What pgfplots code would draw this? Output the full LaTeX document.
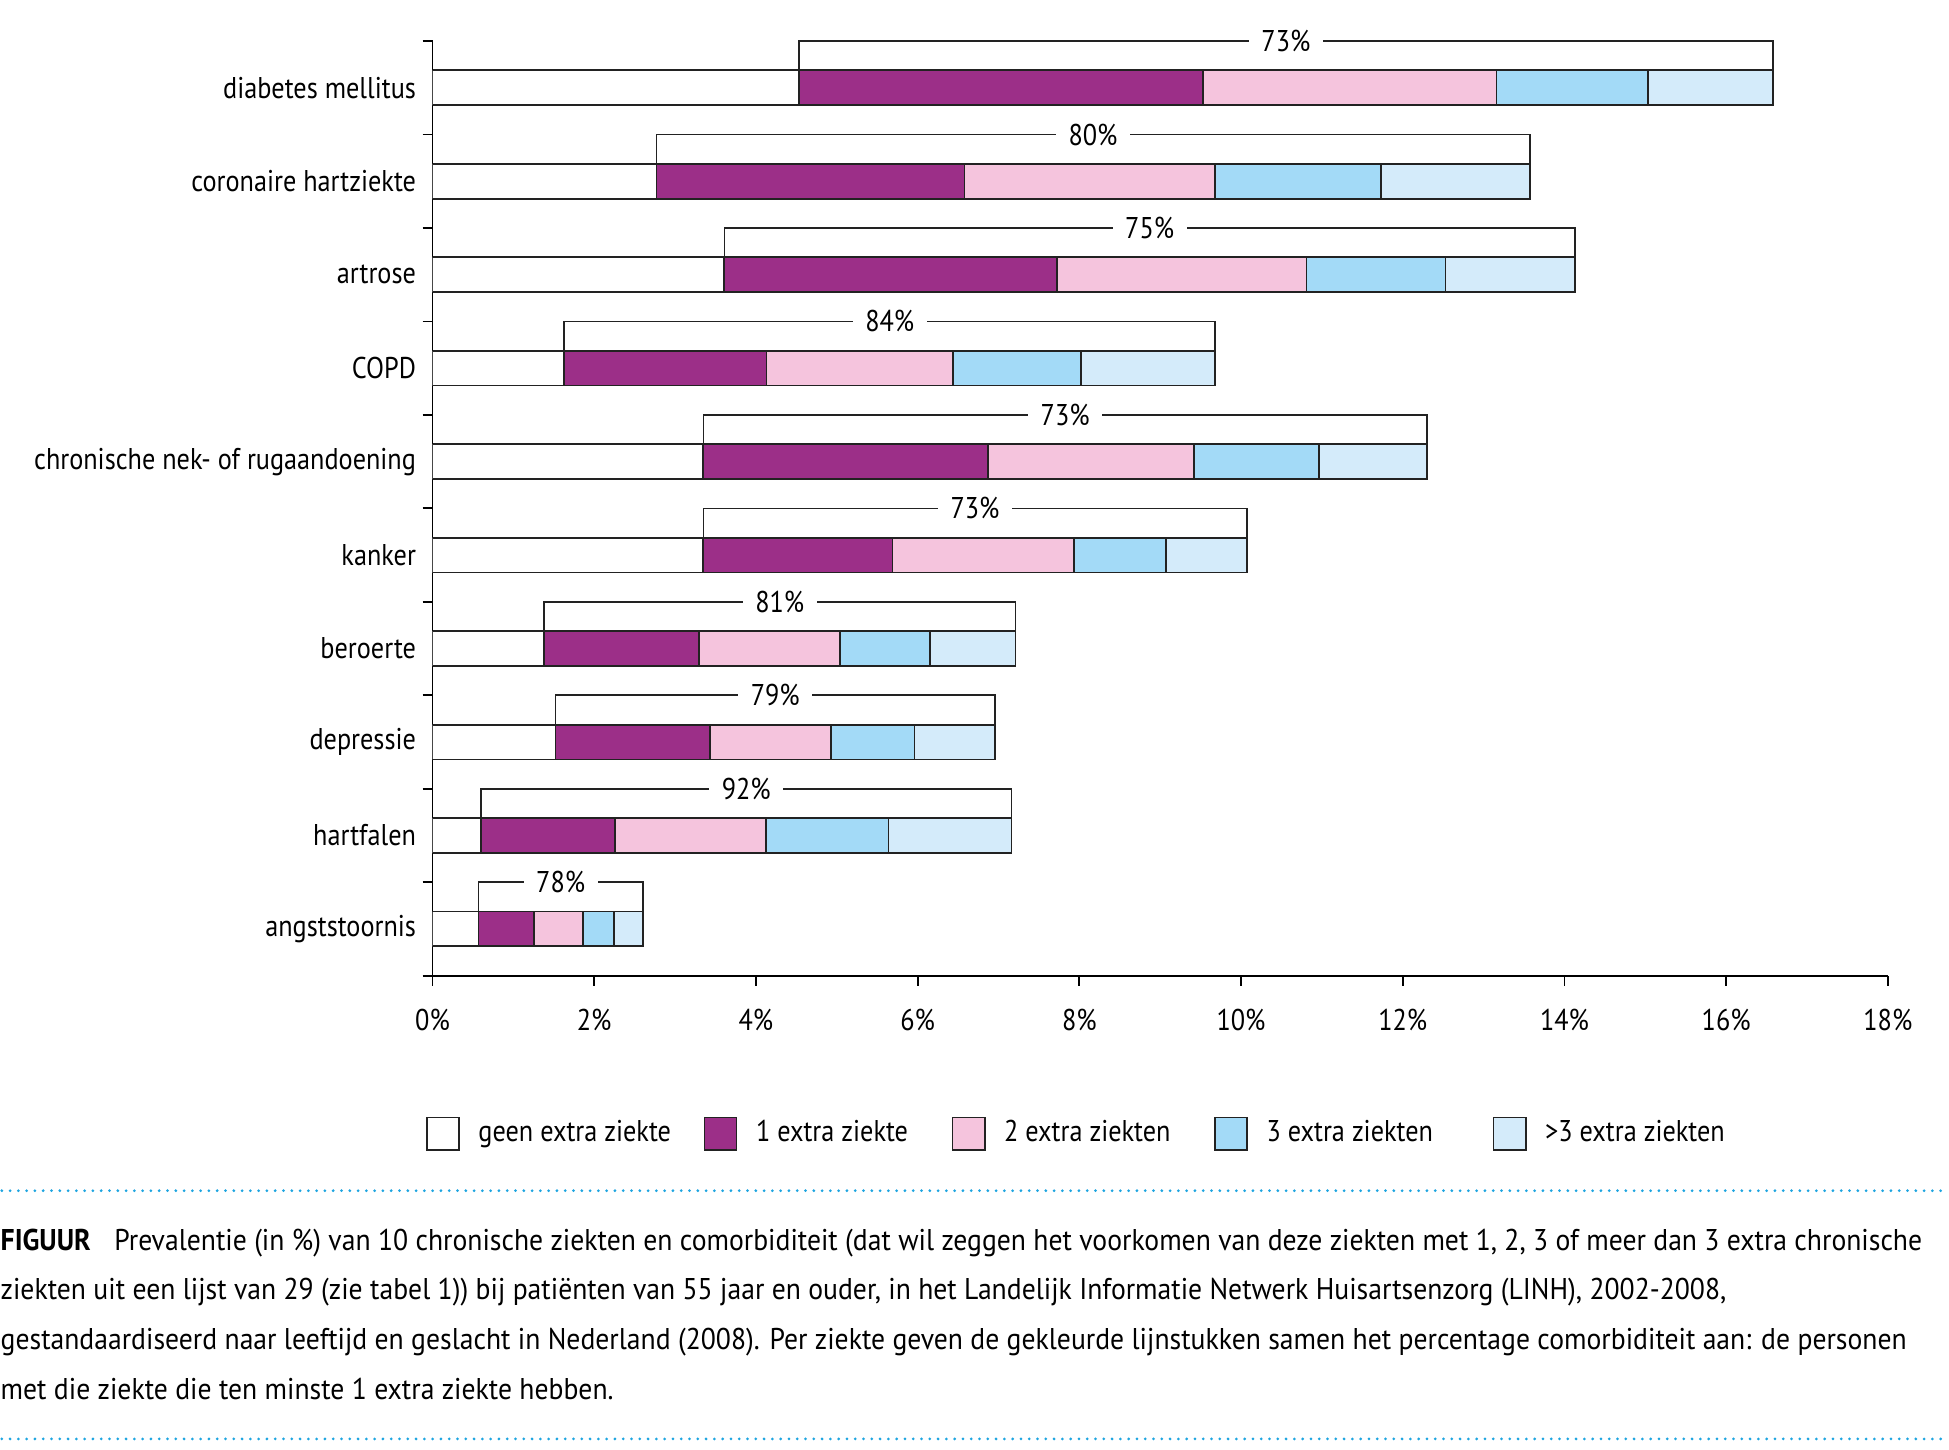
\documentclass[border=0pt]{standalone}
\usepackage{fontspec}
\setmainfont{PT Sans}[FakeStretch=0.875]
\newfontfamily\capfont{PT Sans}[FakeStretch=0.922]
\usepackage{pgfplots}
\usepackage{pgfplotstable}
\pgfplotsset{compat=1.18}

\definecolor{een}{HTML}{9C2F88}
\definecolor{twee}{HTML}{F5C4DD}
\definecolor{drie}{HTML}{A3DAF7}
\definecolor{meer}{HTML}{D4EBFA}
\definecolor{stip}{HTML}{1EA5E0}
\definecolor{rand}{HTML}{222222}

\newcommand\lbl{\fontsize{8.4}{10}\selectfont}

% prevalentie in %, per aantal extra ziekten (y=0 onderaan)
\pgfplotstableread{
y geen een  twee drie meer
0 0.57 0.69 0.60 0.38 0.36
1 0.60 1.66 1.86 1.52 1.52
2 1.52 1.91 1.50 1.03 1.00
3 1.38 1.92 1.74 1.11 1.06
4 3.35 2.34 2.24 1.14 1.00
5 3.35 3.52 2.55 1.54 1.34
6 1.63 2.50 2.31 1.58 1.66
7 3.61 4.11 3.09 1.72 1.60
8 2.77 3.81 3.10 2.05 1.84
9 4.53 5.00 3.63 1.87 1.55
}\ziekten

\pgfplotsset{
  box legend/.style={legend image code/.code={
    \draw[##1, line width=0.5pt] (0pt,-4.5pt) rectangle (9pt,4.5pt);}},
  seg/.style={fill=#1, draw=rand, line width=0.5pt, box legend},
  frame/.style={at={(121.1pt,132.8pt)}, anchor=south west,
    width=407.5pt, height=261.7pt, scale only axis,
    xmin=0, xmax=18, ymin=-0.5, ymax=9.5},
}

\begin{document}
\begin{tikzpicture}
\useasboundingbox (0,0) rectangle (545.72pt,406pt);

\begin{axis}[frame,
  xbar stacked, bar width=9.75pt,
  axis x line=bottom, axis y line=left,
  axis line style={-, line width=0.5pt, black},
  xtick={0,2,...,18},
  xticklabel={\pgfmathprintnumber{\tick}\%},
  ytick={-0.5,0.5,...,9.5},
  yticklabels={angststoornis, hartfalen, depressie, beroerte, kanker,
    chronische nek- of rugaandoening, COPD, artrose, coronaire hartziekte,
    diabetes mellitus},
  y tick label as interval,
  tick align=outside, major tick length=2.8pt,
  tick style={black, line width=0.5pt},
  /pgf/number format/assume math mode=true,
  tick label style={font=\lbl},
  yticklabel style={xshift=1.7pt},
  xticklabel style={yshift=-3.1pt},
  legend columns=5,
  legend style={at={(axis description cs:-0.005,-0.169)}, anchor=west,
    draw=none, fill=none, font=\lbl, inner sep=0pt,
    /tikz/every odd column/.append style={column sep=3.2pt},
    /tikz/every even column/.append style={column sep=10.2pt}},
  legend cell align=left,
]
\addplot[seg=white] table[x=geen, y=y] {\ziekten};
\addplot[seg=een]   table[x=een,  y=y] {\ziekten};
\addplot[seg=twee]  table[x=twee, y=y] {\ziekten};
\addplot[seg=drie]  table[x=drie, y=y] {\ziekten};
\addplot[seg=meer]  table[x=meer, y=y] {\ziekten};
\legend{geen extra ziekte\hspace*{-3.1pt}, 1 extra ziekte, 2 extra ziekten,
  3 extra ziekten\hspace*{4.5pt}, >3 extra ziekten}
\end{axis}

% haken: aandeel met comorbiditeit
\begin{axis}[frame, hide axis, clip=false]
\pgfplotsset{hk/.style={rand, line width=0.45pt, mark=none}}
\addplot[hk] coordinates {(4.53,9.187) (4.53,9.5) (16.58,9.5) (16.58,9.187)};
\addplot[hk] coordinates {(2.77,8.187) (2.77,8.5) (13.57,8.5) (13.57,8.187)};
\addplot[hk] coordinates {(3.61,7.187) (3.61,7.5) (14.13,7.5) (14.13,7.187)};
\addplot[hk] coordinates {(1.63,6.187) (1.63,6.5) (9.68,6.5) (9.68,6.187)};
\addplot[hk] coordinates {(3.35,5.187) (3.35,5.5) (12.30,5.5) (12.30,5.187)};
\addplot[hk] coordinates {(3.35,4.187) (3.35,4.5) (10.07,4.5) (10.07,4.187)};
\addplot[hk] coordinates {(1.38,3.187) (1.38,3.5) (7.21,3.5) (7.21,3.187)};
\addplot[hk] coordinates {(1.52,2.187) (1.52,2.5) (6.96,2.5) (6.96,2.187)};
\addplot[hk] coordinates {(0.60,1.187) (0.60,1.5) (7.16,1.5) (7.16,1.187)};
\addplot[hk] coordinates {(0.57,0.187) (0.57,0.5) (2.60,0.5) (2.60,0.187)};
\tikzset{pct/.style={fill=white, inner xsep=3.5pt, inner ysep=1pt, font=\lbl}}
\node[pct] at (axis cs:10.555,9.5) {73\%};
\node[pct] at (axis cs:8.170,8.5) {80\%};
\node[pct] at (axis cs:8.870,7.5) {75\%};
\node[pct] at (axis cs:5.655,6.5) {84\%};
\node[pct] at (axis cs:7.825,5.5) {73\%};
\node[pct] at (axis cs:6.710,4.5) {73\%};
\node[pct] at (axis cs:4.295,3.5) {81\%};
\node[pct] at (axis cs:4.240,2.5) {79\%};
\node[pct] at (axis cs:3.880,1.5) {92\%};
\node[pct] at (axis cs:1.585,0.5) {78\%};
\end{axis}

\tikzset{dots/.style={stip, line width=0.85pt, line cap=round, dash pattern=on 0pt off 2.32pt}}
\draw[dots] (0.5pt,72.6pt) -- (545.5pt,72.6pt);
\draw[dots] (0.5pt,3.1pt) -- (545.5pt,3.1pt);

\begin{scope}[every node/.style={anchor=base west, inner sep=0pt, font=\capfont\lbl}]
\node at (0,55.9pt) {\textbf{FIGUUR}\hspace{6.6pt}Prevalentie (in \%) van 10 chronische ziekten en comorbiditeit (dat wil zeggen het voorkomen van deze ziekten met 1, 2, 3 of meer dan 3 extra chronische};
\node at (0,42.0pt) {ziekten uit een lijst van 29 (zie tabel 1)) bij patiënten van 55 jaar en ouder, in het Landelijk Informatie Netwerk Huisartsenzorg (LINH), 2002-2008,};
\node at (0,28.1pt) {gestandaardiseerd naar leeftijd en geslacht in Nederland (2008). Per ziekte geven de gekleurde lijnstukken samen het percentage comorbiditeit aan: de personen};
\node at (0,14.2pt) {met die ziekte die ten minste 1 extra ziekte hebben.};
\end{scope}
\end{tikzpicture}
\end{document}
